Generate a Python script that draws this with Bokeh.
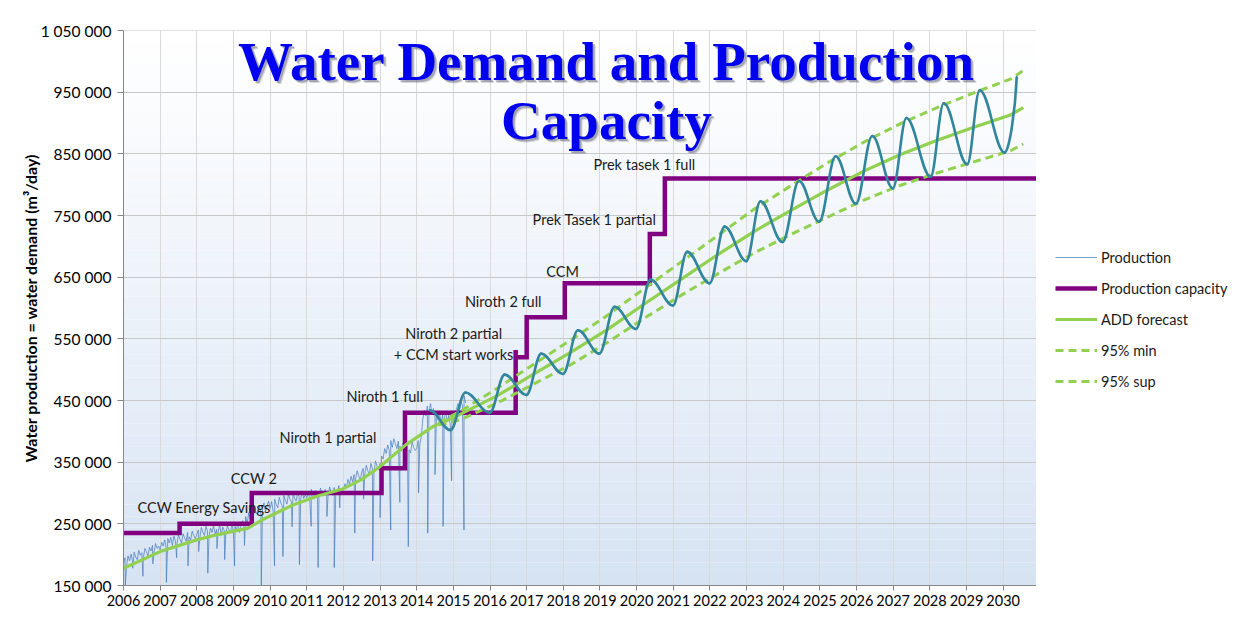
import numpy as np
from bokeh.plotting import figure
from bokeh.layouts import row
from bokeh.models import (FixedTicker, Legend, LegendItem, Label, BoxAnnotation, Range1d)
from bokeh.embed import file_html
from bokeh.resources import INLINE
from bokeh.core.properties import value

# ---------------- data ----------------
x_ticks = [2006, 2007, 2008, 2009, 2010, 2011, 2012, 2013, 2014, 2015, 2016, 2017,
           2018, 2019, 2020, 2021, 2022, 2023, 2024, 2025, 2026, 2027, 2028, 2029, 2030]
x_labels = ["2006", "2007", "2008", "2009", "2010", "2011", "2012", "2013", "2014",
            "2015", "2016", "2017", "2018", "2019", "2020", "2021", "2022", "2023",
            "2024", "2025", "2026", "2027", "2028", "2029", "2030"]
y_ticks = [150000, 250000, 350000, 450000, 550000, 650000, 750000, 850000, 950000, 1050000]
y_labels = ["150 000", "250 000", "350 000", "450 000", "550 000", "650 000",
            "750 000", "850 000", "950 000", "1 050 000"]

# Production (thousand m3/day), half-monthly readings, one row per year
prod_2006 = [185, 195, 182, 198, 190, 201, 188, 204, 196, 192, 207, 199,
             203, 195, 210, 205, 198, 212, 206, 215, 204, 218, 210, 214]
prod_2007 = [208, 220, 214, 224, 210, 226, 219, 228, 215, 230, 222, 218,
             232, 225, 219, 234, 227, 222, 236, 229, 224, 238, 231, 226]
prod_2008 = [233, 240, 228, 244, 236, 231, 246, 238, 230, 243, 236, 248,
             233, 241, 237, 249, 231, 245, 239, 234, 247, 240, 236, 250]
prod_2009 = [238, 246, 241, 251, 236, 248, 255, 243, 262, 250, 268, 258,
             272, 261, 276, 266, 270, 280, 264, 275, 284, 270, 279, 287]
prod_2010 = [275, 286, 270, 290, 281, 276, 293, 284, 279, 296, 288, 282,
             298, 290, 285, 301, 292, 287, 299, 294, 289, 303, 291, 297]
prod_2011 = [292, 302, 288, 306, 296, 291, 304, 298, 293, 308, 299, 295,
             306, 301, 297, 310, 300, 296, 309, 303, 298, 312, 305, 301]
prod_2012 = [306, 315, 309, 322, 314, 327, 318, 330, 323, 336, 328, 320,
             334, 340, 331, 345, 336, 329, 348, 339, 333, 352, 344, 338]
prod_2013 = [348, 360, 355, 372, 364, 378, 369, 385, 374, 388, 380, 372,
             384, 376, 368, 381, 373, 362, 379, 370, 365, 383, 374, 369]
prod_2014 = [372, 385, 378, 392, 420, 434, 425, 441, 430, 445, 428, 437,
             422, 433, 418, 430, 412, 427, 420, 432, 415, 426, 410, 424]
prod_2015 = [418, 430, 436, 445, 432, 450, 441, 458, 446]

# downward spikes in production (year, thousand m3/day)
spike_years = [2006.05, 2006.25, 2006.53, 2006.80, 2007.17, 2007.45, 2007.76, 2008.05,
               2008.30, 2008.55, 2008.76, 2009.03, 2009.30, 2009.76, 2010.12, 2010.35,
               2010.60, 2010.80, 2011.12, 2011.31, 2011.55, 2011.75, 2011.90, 2012.31,
               2012.55, 2012.80, 2013.00, 2013.29, 2013.54, 2013.77, 2014.05, 2014.30,
               2014.50, 2014.72, 2014.95, 2015.29]
spike_values = [150, 178, 165, 185, 155, 195, 182, 205,
                170, 210, 192, 182, 215, 150, 182, 197,
                245, 184, 246, 179, 262, 179, 276, 235,
                290, 190, 260, 240, 285, 213, 300, 235,
                330, 246, 320, 240]

# Production capacity (step line)
cap_years = [2006.0, 2007.53, 2007.53, 2009.50, 2009.50, 2013.04, 2013.04, 2013.68,
             2013.68, 2016.70, 2016.70, 2016.70, 2017.00, 2017.00, 2018.04, 2018.04,
             2020.36, 2020.36, 2020.77, 2020.77, 2030.91]
cap_values = [235, 235, 250, 250, 300, 300, 340, 340,
              430, 430, 532, 520, 520, 585, 585, 640,
              640, 720, 720, 810, 810]

# ADD forecast
fc_years = [2006.0, 2007.0, 2008.0, 2008.6, 2009.4, 2009.8, 2010.6, 2011.3, 2012.0,
            2012.5, 2013.0, 2013.7, 2014.45, 2015.1, 2016.2, 2017.2, 2018.2, 2019.2,
            2020.2, 2021.2, 2022.2, 2023.2, 2024.2, 2025.2, 2026.2, 2027.2, 2028.2,
            2029.2, 2030.2, 2030.55]
fc_values = [178, 205, 224, 233, 243, 257, 280, 295, 307,
             322, 343, 378, 408, 425, 458, 493, 528, 565,
             606, 646, 686, 724, 758, 791, 822, 849, 872,
             893, 913, 925]

# 95% bounds
ci_years = [2014.6, 2015.2, 2016.2, 2017.2, 2018.2, 2019.2, 2020.2, 2021.2, 2022.2,
            2023.2, 2024.2, 2025.2, 2026.2, 2027.2, 2028.2, 2029.2, 2030.2, 2030.55]
ci_min = [410, 419, 446, 477, 508, 544, 583, 620, 655,
          689, 719, 747, 775, 799, 819, 837, 855, 866]
ci_sup = [414, 433, 470, 509, 548, 588, 631, 674, 717,
          760, 798, 835, 869, 899, 925, 949, 971, 985]

# Seasonal forecast (peaks and troughs)
wave_years = [2014.36, 2014.92, 2015.33, 2015.99, 2016.40, 2016.99, 2017.40, 2017.99,
              2018.40, 2018.98, 2019.40, 2019.98, 2020.38, 2020.99, 2021.38, 2021.99,
              2022.40, 2022.99, 2023.38, 2023.98, 2024.43, 2024.98, 2025.43, 2025.98,
              2026.43, 2026.99, 2027.36, 2028.02, 2028.38, 2029.02, 2029.36, 2030.04,
              2030.37]
wave_values = [434, 402, 463, 430, 492, 459, 526, 493,
               564, 526, 602, 566, 646, 604, 691, 640,
               732, 676, 773, 707, 806, 740, 846, 769,
               879, 794, 908, 813, 932, 833, 953, 852,
               974]

ann_text = ["CCW Energy Savings", "CCW 2", "Niroth 1 partial", "Niroth 1 full",
            "Niroth 2 partial", "+ CCM start works", "Niroth 2 full", "CCM",
            "Prek Tasek 1 partial", "Prek tasek 1 full"]

# ---------------- main figure ----------------
p = figure(width=1036, height=620,
           x_range=Range1d(2006.0, 2030.91), y_range=Range1d(150000, 1050000),
           output_backend="svg", toolbar_location=None,
           min_border_left=123, min_border_right=0,
           min_border_top=30, min_border_bottom=35)
p.background_fill_color = "#ffffff"
p.border_fill_color = "#ffffff"
p.outline_line_color = "#d4d4d4"

# gradient background of the plot area
top_c = np.array([255, 255, 255])
bot_c = np.array([213, 226, 243])
nb = 48
edges = np.linspace(150000, 1050000, nb + 1)
for i in range(nb):
    t = (i + 0.5) / nb
    c = bot_c + (top_c - bot_c) * (t ** 0.85)
    col = "#%02x%02x%02x" % tuple(int(round(v)) for v in c)
    p.add_layout(BoxAnnotation(bottom=edges[i], top=edges[i + 1], fill_color=col,
                               fill_alpha=1.0, line_color=None, level="image"))

# grids
p.xgrid.ticker = FixedTicker(ticks=x_ticks)
p.ygrid.ticker = FixedTicker(ticks=y_ticks)
p.xgrid.grid_line_color = "#dadada"
p.ygrid.grid_line_color = "#c8c8c8"

# axes
for ax in (p.xaxis, p.yaxis):
    ax.axis_line_color = "#868686"
    ax.major_tick_line_color = "#868686"
    ax.minor_tick_line_color = None
    ax.major_tick_in = 0
    ax.major_label_text_font = "Lato"
    ax.major_label_text_color = "#000000"
p.xaxis.ticker = FixedTicker(ticks=x_ticks)
p.xaxis.major_label_overrides = {t: l for t, l in zip(x_ticks, x_labels)}
p.xaxis.major_label_text_font_size = "14.5px"
p.xaxis.major_tick_out = 5
p.xaxis.major_label_standoff = 4
p.yaxis.ticker = FixedTicker(ticks=y_ticks)
p.yaxis.major_label_overrides = {t: l for t, l in zip(y_ticks, y_labels)}
p.yaxis.major_label_text_font_size = "15.5px"
p.yaxis.major_tick_out = 6
p.yaxis.major_label_standoff = 6
p.yaxis.axis_label = "Water production = water demand (m³/day)"
p.yaxis.axis_label_text_font = "Lato"
p.yaxis.axis_label_text_font_style = "bold"
p.yaxis.axis_label_text_font_size = "16px"
p.yaxis.axis_label_text_color = "#000000"
p.yaxis.axis_label_standoff = -2

# production series
rows = [prod_2006, prod_2007, prod_2008, prod_2009, prod_2010, prod_2011,
        prod_2012, prod_2013, prod_2014, prod_2015]
px, py = [], []
for k, r in enumerate(rows):
    for j, v in enumerate(r):
        px.append(2006 + k + j / 24.0)
        py.append(v)
px = px + spike_years
py = py + spike_values
order = np.argsort(px, kind="stable")
px = np.array(px)[order]
py = np.array(py)[order] * 1000.0

prod_style = dict(line_color="#4f81bd", line_width=0.8, line_alpha=0.95)
cap_style = dict(line_color="#800080", line_width=4.5)
fc_style = dict(line_color="#92d050", line_width=3.2)
ci_style = dict(line_color="#92d050", line_width=3, line_dash="8 5")

p.line(px, py, **prod_style)
p.line(cap_years, [v * 1000 for v in cap_values], line_join="miter", **cap_style)
p.line(ci_years, [v * 1000 for v in ci_min], **ci_style)
p.line(ci_years, [v * 1000 for v in ci_sup], **ci_style)
p.line(fc_years, [v * 1000 for v in fc_values], line_join="round", **fc_style)

# seasonal forecast drawn as smooth curve through its peaks and troughs
wx = np.array(wave_years)
wy = np.array(wave_values) * 1000.0
x0, x1 = wx[:-1], wx[1:]
y0, y1 = wy[:-1], wy[1:]
d = 0.37 * (x1 - x0)
cx0 = x0 + d
cy0 = y0.copy()
cx1 = x1 - d
cy1 = y1.copy()
cx1[-1] = x1[-1] - 0.12 * (x1[-1] - x0[-1])
cy1[-1] = y1[-1] - 0.45 * (y1[-1] - y0[-1])
p.bezier(x0=x0, y0=y0, x1=x1, y1=y1, cx0=cx0, cy0=cy0, cx1=cx1, cy1=cy1,
         line_color="#31859c", line_width=2.6, line_cap="round")

# annotation labels
ann_x = [2008.20, 2009.56, 2011.58, 2013.13, 2015.01, 2015.01, 2016.36, 2017.98,
         2018.85, 2020.21]
ann_y = [276000, 323000, 390000, 456000, 558000, 524000, 610000, 660000,
         743000, 833000]
p.text(x=ann_x, y=ann_y, text=ann_text, text_font=value("Lato"),
       text_font_size="14.5px", text_align="center", text_baseline="middle",
       text_color="#1a1a1a")

# title with shadow
title_lines = ["Water Demand and Production", "Capacity"]
title_base = [524, 465]
for line, yb in zip(title_lines, title_base):
    for dx, dy, a in [(3, -3, 0.18), (2, -2, 0.30)]:
        p.add_layout(Label(x=483 + dx, y=yb + dy, x_units="screen", y_units="screen",
                           text=line, text_font="Liberation Serif",
                           text_font_style="bold", text_font_size="55px",
                           text_color="#303050", text_alpha=a,
                           text_align="center", text_baseline="alphabetic"))
    p.add_layout(Label(x=483, y=yb, x_units="screen", y_units="screen",
                       text=line, text_font="Liberation Serif",
                       text_font_style="bold", text_font_size="55px",
                       text_color="#0000f0", text_align="center",
                       text_baseline="alphabetic"))

# ---------------- legend panel ----------------
q = figure(width=200, height=620, x_range=Range1d(0, 1), y_range=Range1d(0, 1),
           output_backend="svg", toolbar_location=None,
           x_axis_location=None, y_axis_location=None, min_border=0)
q.grid.visible = False
q.outline_line_color = None
q.background_fill_color = "#ffffff"
q.border_fill_color = "#ffffff"
# legend swatches: renderers whose single point lies outside this panel's ranges
off = [5, 6]
l_prod = q.line(off, off, **prod_style)
l_cap = q.line(off, off, **cap_style)
l_fc = q.line(off, off, **fc_style)
l_min = q.line(off, off, **ci_style)
l_sup = q.line(off, off, **ci_style)
legend = Legend(items=[
    LegendItem(label="Production", renderers=[l_prod]),
    LegendItem(label="Production capacity", renderers=[l_cap]),
    LegendItem(label="ADD forecast", renderers=[l_fc]),
    LegendItem(label="95% min", renderers=[l_min]),
    LegendItem(label="95% sup", renderers=[l_sup]),
], location=(19, 194), orientation="vertical", border_line_color=None,
    background_fill_alpha=0, padding=0, margin=0, spacing=11,
    glyph_width=42, glyph_height=20, label_height=20, label_standoff=4,
    label_text_font="Lato", label_text_font_size="14.5px",
    label_text_color="#1a1a1a")
q.add_layout(legend)

layout = row(p, q, spacing=0)
open("out.html", "w").write(file_html(layout, INLINE))
